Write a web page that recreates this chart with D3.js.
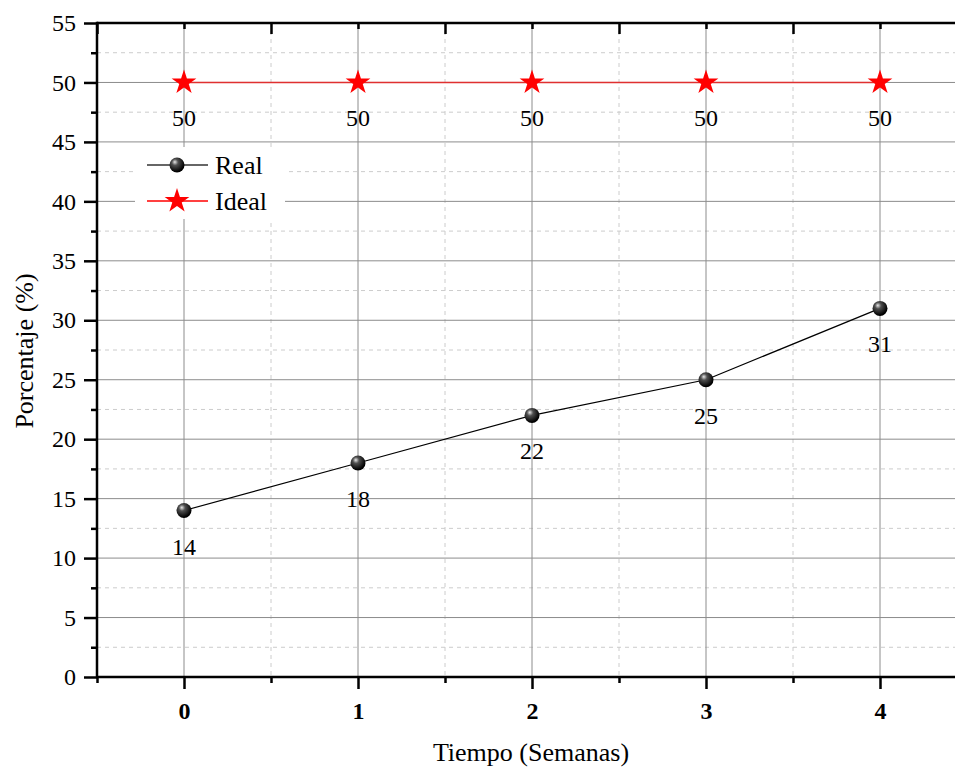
<!DOCTYPE html>
<html>
<head>
<meta charset="utf-8">
<script src="https://cdn.jsdelivr.net/npm/d3@7.9.0/dist/d3.min.js"></script>
<style>
  body { margin: 0; background: #fff; overflow: hidden; }
  svg { display: block; font-family: "Liberation Serif", "Times New Roman", serif; }
</style>
</head>
<body>
<svg id="chart" width="955" height="768"></svg>
<script>
// chart data
const weeks = [0, 1, 2, 3, 4];
const realValues = [14, 18, 22, 25, 31];
const idealValues = [50, 50, 50, 50, 50];
const yTicks = [0, 5, 10, 15, 20, 25, 30, 35, 40, 45, 50, 55];

const svg = d3.select('#chart');
const plotLeft = 97, plotTop = 23, plotBottom = 677;

// the plot runs a bit past the right edge of the window, like the original figure
let x = d3.scaleLinear().domain([-0.5, 4.5]).range([plotLeft, 967]);
let y = d3.scaleLinear().domain([0, 55]).range([plotBottom, plotTop]);

const minorX = d3.range(-0.5, 4.6, 0.5).filter(v => !Number.isInteger(v));
const minorY = d3.range(2.5, 55, 5);

// minor grid (dashed)
svg.append('g').selectAll('line').data(minorY).join('line')
  .attr('x1', plotLeft).attr('x2', 955)
  .attr('y1', d => y(d)).attr('y2', d => y(d))
  .attr('stroke', '#cccccc').attr('stroke-dasharray', '4,4');
svg.append('g').selectAll('line').data(minorX).join('line')
  .attr('x1', d => x(d)).attr('x2', d => x(d))
  .attr('y1', plotTop).attr('y2', plotBottom)
  .attr('stroke', '#cccccc').attr('stroke-dasharray', '4,4');

// major grid
svg.append('g').selectAll('line').data(yTicks.slice(1, -1)).join('line')
  .attr('x1', plotLeft).attr('x2', 955)
  .attr('y1', d => y(d)).attr('y2', d => y(d))
  .attr('stroke', '#8c8c8c');
svg.append('g').selectAll('line').data(weeks).join('line')
  .attr('x1', d => x(d)).attr('x2', d => x(d))
  .attr('y1', plotTop).attr('y2', plotBottom)
  .attr('stroke', '#8c8c8c');

// left axis
const yAxis = d3.axisLeft(y).tickValues(yTicks).tickSize(13).tickPadding(8);
const gy = svg.append('g').attr('transform', `translate(${plotLeft},0)`).call(yAxis);
gy.selectAll('.tick text').attr('font-size', 24).attr('font-family', 'Liberation Serif').attr('fill', '#000');
gy.selectAll('.tick line').attr('stroke-width', 2.5);
gy.select('.domain').remove();
svg.append('g').attr('transform', `translate(${plotLeft},0)`)
  .call(d3.axisLeft(y).tickValues(minorY).tickSize(6).tickFormat(''))
  .call(g => g.select('.domain').remove())
  .selectAll('line').attr('stroke-width', 2.5);

// bottom axis
const xAxis = d3.axisBottom(x).tickValues(weeks).tickSize(12).tickPadding(13).tickFormat(d3.format('d'));
const gx = svg.append('g').attr('transform', `translate(0,${plotBottom})`).call(xAxis);
gx.selectAll('.tick text').attr('font-size', 24).attr('font-weight', 'bold')
  .attr('font-family', 'Liberation Serif').attr('fill', '#000');
gx.selectAll('.tick line').attr('stroke-width', 2.5);
gx.select('.domain').remove();
svg.append('g').attr('transform', `translate(0,${plotBottom})`)
  .call(d3.axisBottom(x).tickValues(minorX).tickSize(6).tickFormat(''))
  .call(g => g.select('.domain').remove())
  .selectAll('line').attr('stroke-width', 2.5);

// top axis, ticks pointing inward
svg.append('g').attr('transform', `translate(0,${plotTop})`)
  .call(d3.axisBottom(x).tickValues(weeks).tickSize(6).tickFormat(''))
  .call(g => g.select('.domain').remove())
  .selectAll('line').attr('stroke-width', 2.5);
svg.append('g').attr('transform', `translate(0,${plotTop})`)
  .call(d3.axisBottom(x).tickValues(minorX).tickSize(11).tickFormat(''))
  .call(g => g.select('.domain').remove())
  .selectAll('line').attr('stroke-width', 2.5);

// frame lines
svg.append('line').attr('x1', plotLeft).attr('x2', 955).attr('y1', plotTop).attr('y2', plotTop)
  .attr('stroke', '#000').attr('stroke-width', 2.5);
svg.append('line').attr('x1', plotLeft).attr('x2', 955).attr('y1', plotBottom).attr('y2', plotBottom)
  .attr('stroke', '#000').attr('stroke-width', 2.5);
svg.append('line').attr('x1', plotLeft).attr('x2', plotLeft).attr('y1', plotTop - 1.2).attr('y2', plotBottom + 1.2)
  .attr('stroke', '#000').attr('stroke-width', 2.5);

// sphere gradient for the "Real" markers
const defs = svg.append('defs');
const grad = defs.append('radialGradient').attr('id', 'ball')
  .attr('cx', '40%').attr('cy', '35%').attr('r', '60%').attr('fx', '35%').attr('fy', '30%');
grad.append('stop').attr('offset', '0%').attr('stop-color', '#e8e8e8');
grad.append('stop').attr('offset', '35%').attr('stop-color', '#505050');
grad.append('stop').attr('offset', '100%').attr('stop-color', '#000');

const star = d3.symbol().type(d3.symbolStar).size(190);

// Ideal series
const idealData = weeks.map((w, i) => ({ w, v: idealValues[i] }));
svg.append('path').datum(idealData)
  .attr('d', d3.line().x(d => x(d.w)).y(d => y(d.v)))
  .attr('fill', 'none').attr('stroke', '#e03030').attr('stroke-width', 1.5);
svg.append('g').selectAll('path').data(idealData).join('path')
  .attr('d', star).attr('transform', d => `translate(${x(d.w)},${y(d.v)})`)
  .attr('fill', '#ff0000');
svg.append('g').selectAll('text').data(idealData).join('text')
  .attr('x', d => x(d.w)).attr('y', d => y(d.v) + 44)
  .attr('text-anchor', 'middle').attr('font-size', 24).text(d => d.v);

// Real series
const realData = weeks.map((w, i) => ({ w, v: realValues[i] }));
svg.append('path').datum(realData)
  .attr('d', d3.line().x(d => x(d.w)).y(d => y(d.v)))
  .attr('fill', 'none').attr('stroke', '#000').attr('stroke-width', 1.2);
svg.append('g').selectAll('circle').data(realData).join('circle')
  .attr('cx', d => x(d.w)).attr('cy', d => y(d.v)).attr('r', 7.5)
  .attr('fill', 'url(#ball)');
svg.append('g').selectAll('text').data(realData).join('text')
  .attr('x', d => x(d.w)).attr('y', d => y(d.v) + 44)
  .attr('text-anchor', 'middle').attr('font-size', 24).text(d => d.v);

// legend
const lg = svg.append('g');
lg.append('rect').attr('x', 135).attr('y', 147).attr('width', 150).attr('height', 72).attr('fill', '#fff');
const items = [
  { name: 'Real', color: '#333' },
  { name: 'Ideal', color: '#ff0000' }
];
items.forEach((it, i) => {
  const cy = 165 + i * 36;
  lg.append('line').attr('x1', 147).attr('x2', 208).attr('y1', cy).attr('y2', cy)
    .attr('stroke', it.color).attr('stroke-width', 1.5);
  if (i === 0) {
    lg.append('circle').attr('cx', 177).attr('cy', cy).attr('r', 7.5).attr('fill', 'url(#ball)');
  } else {
    lg.append('path').attr('d', star).attr('transform', `translate(177,${cy})`).attr('fill', '#ff0000');
  }
  lg.append('text').attr('x', 215).attr('y', cy + 9).attr('font-size', 26).text(it.name);
});

// axis titles
svg.append('text').attr('x', 531).attr('y', 761).attr('text-anchor', 'middle')
  .attr('font-size', 26).text('Tiempo (Semanas)');
svg.append('text').attr('transform', `translate(33,${(plotTop + plotBottom) / 2 + 1}) rotate(-90)`)
  .attr('text-anchor', 'middle').attr('font-size', 26).text('Porcentaje (%)');
</script>
</body>
</html>
